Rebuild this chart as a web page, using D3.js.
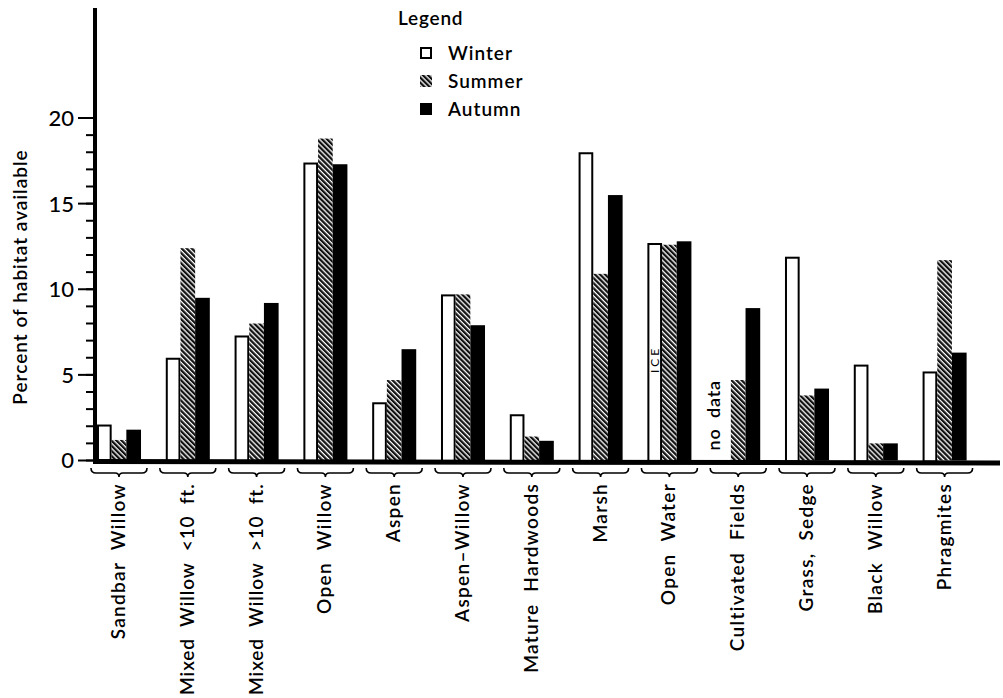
<!DOCTYPE html>
<html>
<head>
<meta charset="utf-8">
<script src="https://cdn.jsdelivr.net/npm/d3@7/dist/d3.min.js"></script>
<style>
  html, body { margin: 0; padding: 0; background: #fff; }
  svg { display: block; font-family: Lato, "Noto Sans", sans-serif; }
</style>
</head>
<body>
<svg id="chart" width="1003" height="698"></svg>
<script>
const categories = ["Sandbar  Willow", "Mixed  Willow  <10  ft.", "Mixed  Willow  >10  ft.", "Open  Willow",
  "Aspen", "Aspen\u2013Willow", "Mature  Hardwoods", "Marsh", "Open  Water", "Cultivated  Fields",
  "Grass,  Sedge", "Black  Willow", "Phragmites"];
const seasons = ["Winter", "Summer", "Autumn"];
const winter = [2.1, 6.0, 7.3, 17.4, 3.4, 9.7, 2.7, 18.0, 12.7, null, 11.9, 5.6, 5.2];
const summer = [1.2, 12.4, 8.0, 18.8, 4.7, 9.7, 1.4, 10.9, 12.6, 4.7, 3.8, 1.0, 11.7];
const autumn = [1.8, 9.5, 9.2, 17.3, 6.5, 7.9, 1.15, 15.5, 12.8, 8.9, 4.2, 1.0, 6.3];
const yTicks = [0, 5, 10, 15, 20];
const yMinorTicks = d3.range(0, 21, 1);

const series = [winter, summer, autumn];

const svg = d3.select("#chart");
const FW = 600;

const defs = svg.append("defs");
const pat = defs.append("pattern")
  .attr("id", "hatch")
  .attr("patternUnits", "userSpaceOnUse")
  .attr("width", 3.6).attr("height", 3.6)
  .attr("patternTransform", "rotate(-45)");
pat.append("rect").attr("width", 3.6).attr("height", 3.6).attr("fill", "#fff");
pat.append("rect").attr("width", 2.3).attr("height", 3.6).attr("fill", "#111");

const y = d3.scaleLinear().domain([0, 20]).range([460.5, 118]);
const x = d3.scaleBand().domain(categories).range([84.6, 979]).paddingInner(0.36).paddingOuter(0.18);
const xs = d3.scaleBand().domain(seasons).range([0, x.bandwidth()]);

// bars
const groups = svg.append("g").selectAll("g")
  .data(categories).join("g")
  .attr("transform", d => `translate(${x(d)},0)`);

groups.each(function(cat, i) {
  const g = d3.select(this);
  seasons.forEach((s, k) => {
    const v = series[k][i];
    if (v === null) return;
    const r = g.append("rect")
      .attr("x", xs(s))
      .attr("width", xs.bandwidth())
      .attr("y", y(v))
      .attr("height", y(0) - y(v));
    if (k === 0) r.attr("fill", "#fff").attr("stroke", "#000").attr("stroke-width", 2)
      .attr("x", xs(s) + 1).attr("width", xs.bandwidth() - 2).attr("y", y(v) + 1).attr("height", y(0) - y(v));
    else if (k === 1) r.attr("fill", "url(#hatch)");
    else r.attr("fill", "#000");
  });
});

// y axis
const yAxis = svg.append("g").attr("transform", "translate(95,0)");
yAxis.append("line").attr("x1", 0).attr("x2", 0).attr("y1", 8).attr("y2", 462)
  .attr("stroke", "#000").attr("stroke-width", 4);
yAxis.selectAll("line.minor").data(yMinorTicks).join("line").attr("class", "minor")
  .attr("x1", -9).attr("x2", 0).attr("y1", d => y(d)).attr("y2", d => y(d))
  .attr("stroke", "#000").attr("stroke-width", 2);
yAxis.selectAll("line.major").data(yTicks).join("line").attr("class", "major")
  .attr("x1", -17).attr("x2", 0).attr("y1", d => y(d)).attr("y2", d => y(d))
  .attr("stroke", "#000").attr("stroke-width", 2);
yAxis.selectAll("text").data(yTicks).join("text")
  .attr("x", -21).attr("y", d => y(d)).attr("dy", "0.36em")
  .attr("text-anchor", "end").attr("font-size", 22).attr("font-weight", 500).attr("fill", "#000")
  .text(d => d);

// baseline
svg.append("line").attr("x1", 93).attr("x2", 1000).attr("y1", y(0) + 1).attr("y2", y(0) + 2.5)
  .attr("stroke", "#000").attr("stroke-width", 5);

// y title
svg.append("text")
  .attr("transform", `translate(27,${277}) rotate(-90)`)
  .attr("text-anchor", "middle").attr("font-size", 19).attr("letter-spacing", 1)
  .attr("font-weight", FW).attr("fill", "#000")
  .text("Percent of habitat available");

// braces and category labels
const braceY = 473;
categories.forEach(cat => {
  const cx = x(cat) + x.bandwidth() / 2;
  const x0 = cx - 28, x1 = cx + 28;
  svg.append("path")
    .attr("d", `M${x0},${braceY - 5} Q${x0},${braceY} ${x0 + 5},${braceY} L${cx - 4},${braceY} Q${cx},${braceY} ${cx},${braceY + 4} Q${cx},${braceY} ${cx + 4},${braceY} L${x1 - 5},${braceY} Q${x1},${braceY} ${x1},${braceY - 5}`)
    .attr("fill", "none").attr("stroke", "#000").attr("stroke-width", 1.6);
  const t = svg.append("text")
    .attr("transform", `translate(${cx + 6},483) rotate(-90)`)
    .attr("text-anchor", "end").attr("font-size", 19).attr("letter-spacing", 1.3)
    .attr("font-weight", FW).attr("fill", "#000").style("white-space", "pre")
    .text(cat);
  const len = t.node().getComputedTextLength();
  if (len > 212) t.attr("textLength", 212).attr("lengthAdjust", "spacing");
});

// annotations
const owx = x("Open  Water") + xs("Winter") + xs.bandwidth() / 2;
svg.append("text")
  .attr("transform", `translate(${owx + 4},${y(5.9)}) rotate(-90)`)
  .attr("text-anchor", "middle").attr("font-size", 12).attr("letter-spacing", 3)
  .attr("fill", "#000").text("ICE");
const cfx = x("Cultivated  Fields") + xs("Winter") + xs.bandwidth() / 2;
svg.append("text")
  .attr("transform", `translate(${cfx - 4},${y(0) - 10}) rotate(-90)`)
  .attr("text-anchor", "start").attr("font-size", 18).attr("letter-spacing", 0.8)
  .attr("font-weight", FW).attr("fill", "#000").style("white-space", "pre").text("no  data");

// legend
const lg = svg.append("g");
lg.append("text").attr("x", 398).attr("y", 25).attr("font-size", 19).attr("letter-spacing", 0.8)
  .attr("font-weight", FW).attr("fill", "#000").text("Legend");
const legY = [53, 81, 109];
seasons.forEach((s, k) => {
  const r = lg.append("rect").attr("x", 420).attr("y", legY[k] - 6).attr("width", 12).attr("height", 12);
  if (k === 0) r.attr("fill", "#fff").attr("stroke", "#000").attr("stroke-width", 2)
    .attr("x", 421).attr("y", legY[k] - 5).attr("width", 10).attr("height", 10);
  else if (k === 1) r.attr("fill", "url(#hatch)");
  else r.attr("fill", "#000");
  lg.append("text").attr("x", 448).attr("y", legY[k]).attr("dy", "0.36em")
    .attr("font-size", 19).attr("letter-spacing", 1).attr("font-weight", FW)
    .attr("fill", "#000").text(s);
});
</script>
</body>
</html>
